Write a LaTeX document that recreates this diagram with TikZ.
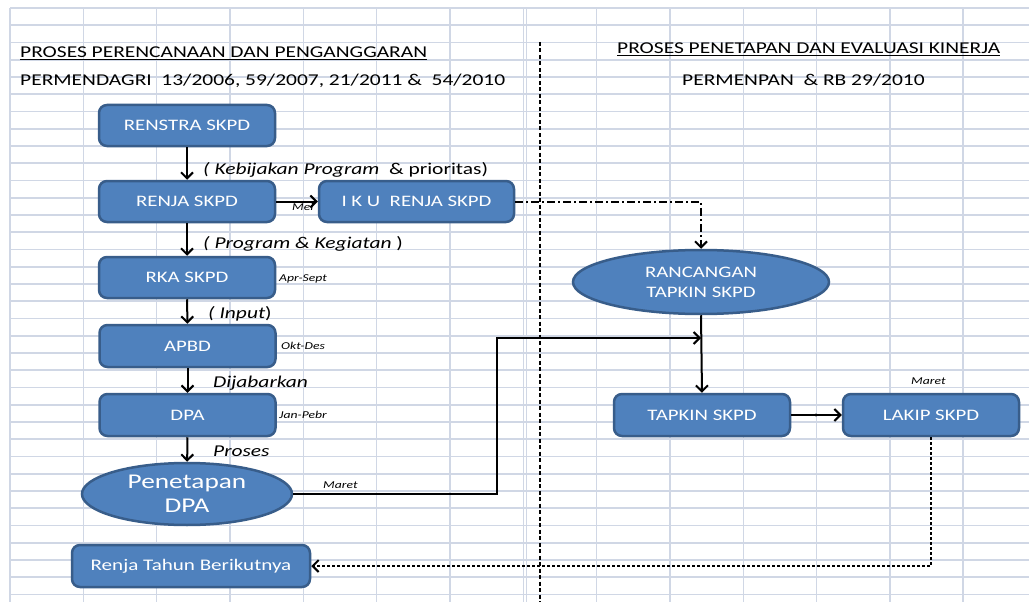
\documentclass[tikz,border=0pt]{standalone}
\usepackage{fontspec}
\setmainfont{Carlito}[FakeStretch=1.3]
\usetikzlibrary{arrows.meta,shapes.geometric}
\definecolor{gridc}{RGB}{208,215,229}
\definecolor{boxfill}{RGB}{79,129,189}
\definecolor{boxline}{RGB}{56,93,138}
\begin{document}
\begin{tikzpicture}[x=1pt,y=-1pt,
  stepbox/.style={draw=boxline, fill=boxfill, line width=2.5pt, rounded corners=8pt,
    text=white, font=\fontsize{16}{18}\selectfont, inner sep=0pt,
    minimum width=176pt, minimum height=41pt},
  oval/.style={ellipse, draw=boxline, fill=boxfill, line width=2.5pt,
    text=white, inner sep=0pt, align=center},
  conn/.style={line width=2pt, -{Straight Barb[length=6pt,width=12pt,line width=2pt]}},
  lbl/.style={anchor=base west, inner sep=0pt, font=\fontsize{16.5}{19}\selectfont\itshape},
  tiny/.style={anchor=base west, inner sep=0pt, font=\fontsize{10.5}{12}\selectfont\itshape},
  head/.style={anchor=base west, inner sep=0pt, font=\fontsize{16.5}{19}\selectfont},
]
\useasboundingbox (0,0) rectangle (1029,602);
\fill[white] (0,0) rectangle (1029,602);
% spreadsheet grid
\foreach \k in {0,...,13} \draw[gridc, line width=1.6pt] (10+73.33*\k,8) -- (10+73.33*\k,602);
\foreach \n in {0,...,34} \draw[gridc, line width=1.6pt] (10,8+17.25*\n) -- (1029,8+17.25*\n);
\draw[gridc, line width=1.6pt] (526.5,8) -- (526.5,602);

% headings
\node[head] (h1) at (20,58) {\underline{PROSES PERENCANAAN DAN PENGANGGARAN}};
\node[head] (h2) at (20,86) {PERMENDAGRI\ \ 13/2006, 59/2007, 21/2011 \&\ \ 54/2010};
\node[head] (h3) at (617,54) {\underline{PROSES PENETAPAN DAN EVALUASI KINERJA}};
\node[head] (h4) at (682,86) {PERMENPAN\ \ \& RB 29/2010};

% separator
\coordinate (sepT) at (540,42);
\coordinate (sepB) at (540,602);
\draw[line width=2pt, dash pattern=on 4pt off 2.5pt] (sepT) -- (sepB);

% planning column
\node[stepbox] (renstra) at (187,125.5) {RENSTRA SKPD};
\node[stepbox] (renja) at (187,201.5) {RENJA SKPD};
\node[stepbox, minimum width=195pt] (iku) at (416.5,201.5) {I K U\ \ RENJA SKPD};
\node[stepbox] (rka) at (187,277.5) {RKA SKPD};
\node[stepbox, minimum height=42pt] (apbd) at (187.5,346) {APBD};
\node[stepbox, minimum height=42pt] (dpa) at (187.5,415) {DPA};
\node[oval, minimum width=210pt, minimum height=62pt, font=\fontsize{21}{24}\selectfont]
  (penetapan) at (187,494) {Penetapan\\DPA};
\node[stepbox, minimum width=238pt, minimum height=42pt, font=\fontsize{16.2}{18}\selectfont]
  (renjanext) at (191,566) {Renja Tahun Berikutnya};

% performance column
\node[oval, minimum width=256pt, minimum height=64pt, font=\fontsize{16}{20}\selectfont]
  (rancangan) at (701,282) {RANCANGAN\\TAPKIN SKPD};
\node[stepbox, minimum height=42pt] (tapkin) at (702,415) {TAPKIN SKPD};
\node[stepbox, minimum height=42pt] (lakip) at (931,415) {LAKIP SKPD};

% connector labels
\node[lbl] (l1) at (203,174) {( Kebijakan Program\ \ \upshape\& prioritas)};
\node[lbl] (l2) at (203,248) {( Program \& Kegiatan \upshape)};
\node[lbl] (l3) at (208,318) {( Input\upshape)};
\node[lbl] (l4) at (213,387) {Dijabarkan};
\node[lbl] (l5) at (213,456) {Proses};
\node[tiny] (t1) at (279,281) {Apr-Sept};
\node[tiny] (t2) at (281,349) {Okt-Des};
\node[tiny] (t3) at (279,418) {Jan-Pebr};
\node[tiny] (t4) at (323,488) {Maret};
\node[tiny] (t5) at (911,384) {Maret};
\node[tiny] (t6) at (292,210) {Mei};

% connectors
\draw[conn] (renstra) -- (renja);
\draw[conn] (renja) -- (rka);
\draw[conn] (rka) -- (apbd);
\draw[conn] (apbd) -- (dpa);
\draw[conn] (dpa) -- (penetapan);
\draw[conn] (renja) -- (iku);
\draw[conn, dash pattern=on 8pt off 3pt on 2pt off 3pt] (iku.east) -| (rancangan.north);
\coordinate (join) at (rancangan.south |- 0,338);
\draw[conn] (penetapan.east) -- (497,494) -- (497,338) -- (join);
\draw[conn] (rancangan.south) -- (tapkin.north);
\coordinate (mid) at (816,415);
\draw[conn] (tapkin) -- (mid) -- (lakip);
\fill (mid) circle (1.6pt);
\draw[conn, dash pattern=on 3pt off 2pt] (lakip.south) |- (renjanext.east);
\end{tikzpicture}
\end{document}
